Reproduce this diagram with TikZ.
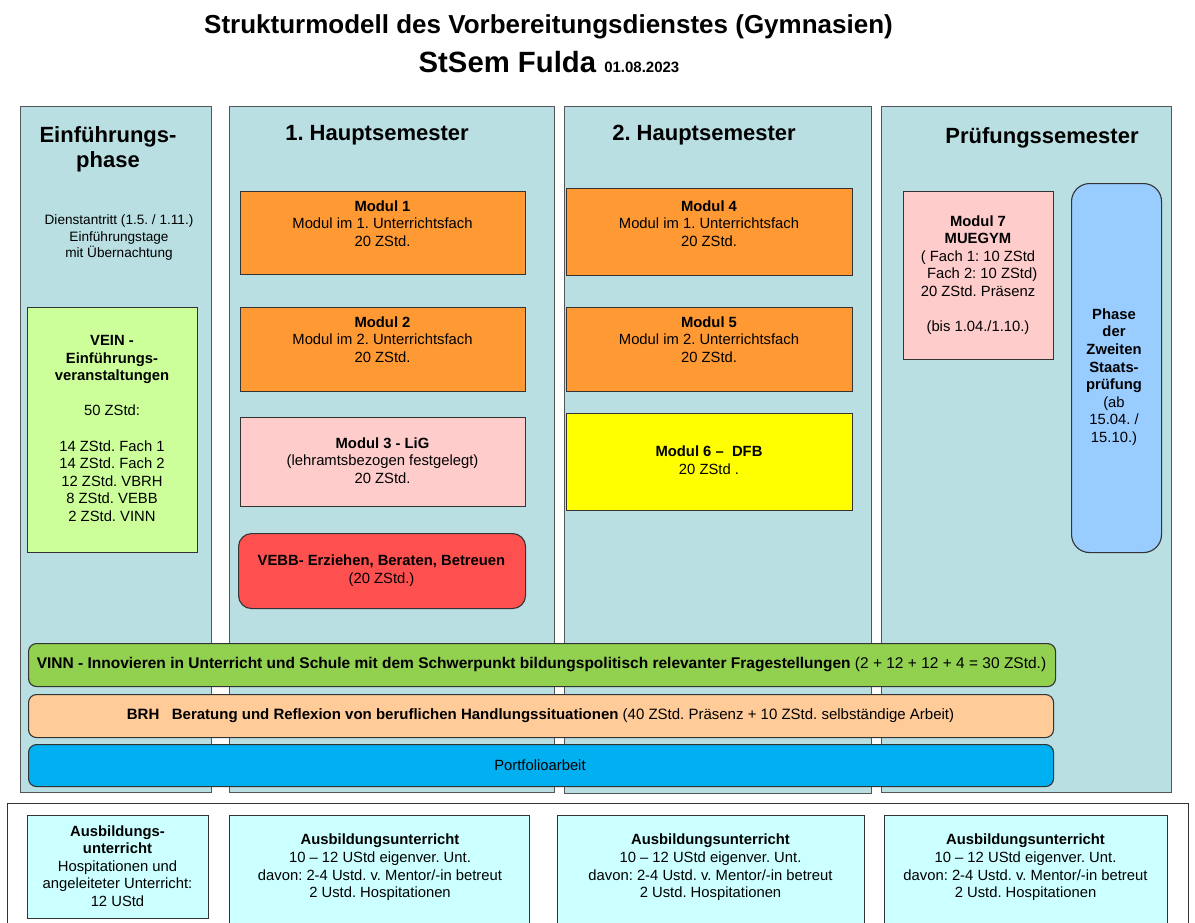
\documentclass[tikz,border=0pt]{standalone}
\usepackage{fontspec}
\setmainfont{Liberation Sans}
\frenchspacing
\definecolor{colfill}{HTML}{B9DFE2}
\definecolor{colline}{HTML}{555555}
\definecolor{veingreen}{HTML}{CCFF99}
\definecolor{modorange}{HTML}{FF9933}
\definecolor{modpink}{HTML}{FFCCCC}
\definecolor{vebbred}{HTML}{FF5050}
\definecolor{modyellow}{HTML}{FFFF00}
\definecolor{phaseblue}{HTML}{99CCFF}
\definecolor{vinngreen}{HTML}{92D050}
\definecolor{brhorange}{HTML}{FFCC99}
\definecolor{portblue}{HTML}{00B0F0}
\definecolor{ausbcyan}{HTML}{CCFFFF}
\definecolor{boxline}{HTML}{333333}
\begin{document}
\frenchspacing
\begin{tikzpicture}[x=1pt,y=-1pt,
  col/.style={draw=colline, fill=colfill, line width=1.2pt, anchor=north west, inner sep=0pt},
  box/.style={draw=boxline, line width=1.1pt, anchor=north west, inner sep=0pt},
  bar/.style={box, rounded corners=8pt},
  txt/.style={align=center, inner sep=0pt, font=\fontsize{14.8}{17.6}\selectfont},
  smalltxt/.style={align=center, inner sep=0pt, font=\fontsize{13.6}{16.5}\selectfont},
  head/.style={align=center, inner sep=0pt, font=\bfseries\fontsize{22}{25}\selectfont},
]
\useasboundingbox (0,0) rectangle (1195,922);
\clip (0,0) rectangle (1195,922);

% Title
\node[inner sep=0pt, font=\bfseries\fontsize{26}{28}\selectfont] (title) at (548.5,27) {Strukturmodell des Vorbereitungsdienstes (Gymnasien)};
\node[inner sep=0pt, font=\bfseries\fontsize{29.3}{31}\selectfont] (title2) at (549,62) {StSem Fulda {\fontsize{15}{16}\selectfont 01.08.2023}};

% Columns
\node[col, minimum width=191, minimum height=686] (c1) at (20,106) {};
\node[col, minimum width=325, minimum height=686] (c2) at (229,106) {};
\node[col, minimum width=307, minimum height=687] (c3) at (564,106) {};
\node[col, minimum width=290, minimum height=686] (c4) at (881,106) {};

% Column headings
\node[head] (h1) at (108,149.5) {Einführungs-\\phase};
\node[head] (h2) at (377,135) {1. Hauptsemester};
\node[head] (h3) at (704,135) {2. Hauptsemester};
\node[head] (h4) at (1042,138) {Prüfungssemester};

% Einführungsphase
\node[smalltxt] (dienst) at (119,237.5) {Dienstantritt (1.5. / 1.11.)\\Einführungstage\\mit Übernachtung};
\node[box, fill=veingreen, minimum width=170, minimum height=245] (vein) at (27,307) {};
\node[txt] (veint) at (112,428.5) {\textbf{VEIN -}\\\textbf{Einführungs-}\\\textbf{veranstaltungen}\\[17.6pt]50 ZStd:\\[17.6pt]14 ZStd. Fach 1\\14 ZStd. Fach 2\\12 ZStd. VBRH\\8 ZStd. VEBB\\2 ZStd. VINN};

% 1. Hauptsemester
\node[box, fill=modorange, minimum width=285, minimum height=83] (m1) at (240,191) {};
\node[txt] (m1t) at (382.5,223.5) {\textbf{Modul 1}\\Modul im 1. Unterrichtsfach\\20 ZStd.};
\node[box, fill=modorange, minimum width=285, minimum height=84] (m2) at (240,307) {};
\node[txt] (m2t) at (382.5,339.5) {\textbf{Modul 2}\\Modul im 2. Unterrichtsfach\\20 ZStd.};
\node[box, fill=modpink, minimum width=285, minimum height=89] (m3) at (240,417) {};
\node[txt] (m3t) at (382.5,460.5) {\textbf{Modul 3 - LiG}\\(lehramtsbezogen festgelegt)\\20 ZStd.};
\node[box, fill=vebbred, rounded corners=13pt, minimum width=287, minimum height=75] (vebb) at (238,533) {};
\node[txt] (vebbt) at (381.5,570.5) {\textbf{VEBB- Erziehen, Beraten, Betreuen}\\(20 ZStd.)};

% 2. Hauptsemester
\node[box, fill=modorange, minimum width=286, minimum height=87] (m4) at (566,188) {};
\node[txt] (m4t) at (709,223.5) {\textbf{Modul 4}\\Modul im 1. Unterrichtsfach\\20 ZStd.};
\node[box, fill=modorange, minimum width=286, minimum height=84] (m5) at (566,307) {};
\node[txt] (m5t) at (709,339.5) {\textbf{Modul 5}\\Modul im 2. Unterrichtsfach\\20 ZStd.};
\node[box, fill=modyellow, minimum width=286, minimum height=97] (m6) at (566,413) {};
\node[txt] (m6t) at (709,460.5) {\textbf{Modul 6 --\ \ DFB}\\20 ZStd .};

% Pruefungssemester
\node[box, fill=modpink, minimum width=150, minimum height=168] (m7) at (903,191) {};
\node[txt] (m7t) at (978,275) {\textbf{Modul 7}\\\textbf{MUEGYM}\\( Fach 1: 10 ZStd\\\ \ Fach 2: 10 ZStd)\\20 ZStd. Präsenz\\[17.6pt](bis 1.04./1.10.)};
\node[box, fill=phaseblue, rounded corners=18pt, minimum width=90, minimum height=369] (phase) at (1071,183) {};
\node[txt] (phaset) at (1114,377) {\textbf{Phase}\\\textbf{der}\\\textbf{Zweiten}\\\textbf{Staats-}\\\textbf{prüfung}\\(ab\\15.04. /\\15.10.)};

% Bars
\node[bar, fill=vinngreen, minimum width=1027, minimum height=43] (vinn) at (28,643) {};
\node[txt, font=\fontsize{15.5}{17.6}\selectfont] (vinnt) at (541.5,664.5) {\textbf{VINN - Innovieren in Unterricht und Schule mit dem Schwerpunkt bildungspolitisch relevanter Fragestellungen} (2 + 12 + 12 + 4 = 30 ZStd.)};
\node[bar, fill=brhorange, minimum width=1025, minimum height=43] (brh) at (28,694) {};
\node[txt, font=\fontsize{15}{17.6}\selectfont] (brht) at (540.5,715.5) {\textbf{BRH\ \ \ Beratung und Reflexion von beruflichen Handlungssituationen} (40 ZStd. Präsenz + 10 ZStd. selbständige Arbeit)};
\node[bar, fill=portblue, minimum width=1025, minimum height=42] (port) at (28,744) {};
\node[txt] (portt) at (540,765.5) {Portfolioarbeit};

% Bottom row
\node[draw=boxline, fill=white, line width=1.2pt, anchor=north west, inner sep=0pt, minimum width=1181, minimum height=140] (bottom) at (7,803) {};
\node[box, fill=ausbcyan, minimum width=181, minimum height=103] (a1) at (27,815) {};
\node[txt] (a1t) at (117.5,866) {\textbf{Ausbildungs-}\\\textbf{unterricht}\\Hospitationen und\\angeleiteter Unterricht:\\12 UStd};
\node[box, fill=ausbcyan, minimum width=300, minimum height=130] (a2) at (229,815) {};
\node[txt] (a2t) at (380,867.5) {\textbf{Ausbildungsunterricht}\\10 -- 12 UStd eigenver. Unt.\\davon: 2-4 Ustd. v. Mentor/-in betreut\\2 Ustd. Hospitationen};
\node[box, fill=ausbcyan, minimum width=307, minimum height=130] (a3) at (557,815) {};
\node[txt] (a3t) at (710.5,867.5) {\textbf{Ausbildungsunterricht}\\10 -- 12 UStd eigenver. Unt.\\davon: 2-4 Ustd. v. Mentor/-in betreut\\2 Ustd. Hospitationen};
\node[box, fill=ausbcyan, minimum width=283, minimum height=130] (a4) at (884,815) {};
\node[txt] (a4t) at (1025.5,867.5) {\textbf{Ausbildungsunterricht}\\10 -- 12 UStd eigenver. Unt.\\davon: 2-4 Ustd. v. Mentor/-in betreut\\2 Ustd. Hospitationen};
\end{tikzpicture}
\end{document}
